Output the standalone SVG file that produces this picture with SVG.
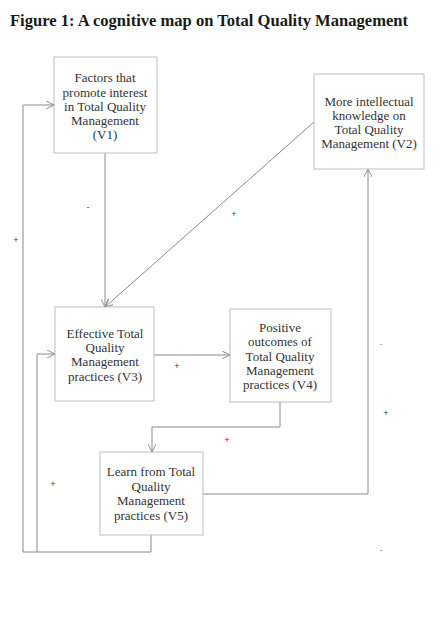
<svg xmlns="http://www.w3.org/2000/svg" width="448" height="640" viewBox="0 0 448 640">
<style>
.bg{fill:#ffffff}
.box{fill:#ffffff;stroke:#bdbdbd;stroke-width:1}
.t{font-family:"Liberation Serif","DejaVu Serif",serif;font-size:13px;fill:#333;text-anchor:middle}
.title{font-family:"Liberation Serif","DejaVu Serif",serif;font-size:16px;font-weight:bold;fill:#1a1a1a}
.c{fill:none;stroke:#8a8a8a;stroke-width:1}
.s{font-family:"Liberation Sans","DejaVu Sans",sans-serif;font-size:9px;fill:#444;text-anchor:middle}
</style>
<defs>
<marker id="arr" viewBox="0 0 10 10" refX="10" refY="5" markerWidth="8" markerHeight="8" markerUnits="userSpaceOnUse" orient="auto">
<path d="M0,0 L10,5 L0,10" fill="none" stroke="#8a8a8a" stroke-width="1.2"/>
</marker>
</defs>
<rect class="bg" x="0" y="0" width="448" height="640"/>
<text class="title" x="10" y="26" textLength="398" lengthAdjust="spacingAndGlyphs">Figure 1: A cognitive map on Total Quality Management</text>

<g id="connectors">
<path class="c" d="M105,153 V307" marker-end="url(#arr)"/>
<path class="c" d="M314,122 L105,307" marker-end="url(#arr)"/>
<path class="c" d="M154,355 H230" marker-end="url(#arr)"/>
<path class="c" d="M280,402 V427 H152 V452" marker-end="url(#arr)"/>
<path class="c" d="M203,494 H368 V169" marker-end="url(#arr)"/>
<path class="c" d="M151,535 V552 H23 V105 H54" marker-end="url(#arr)"/>
<path class="c" d="M37,552 V354 H55" marker-end="url(#arr)"/>
<text class="s" x="88" y="210">-</text>
<text class="s" x="16" y="243">+</text>
<text class="s" x="234" y="217">+</text>
<text class="s" x="177" y="369">+</text>
<text class="s" x="227" y="443">+</text>
<text class="s" x="53" y="487">+</text>
<text class="s" x="386" y="416">+</text>
<text class="s" x="381" y="345">.</text>
<text class="s" x="381" y="551">.</text>
</g>

<g id="V1">
<rect class="box" x="54" y="57" width="103" height="96"/>
<text class="t" x="105" y="82">Factors that</text>
<text class="t" x="105" y="97">promote interest</text>
<text class="t" x="105" y="111">in Total Quality</text>
<text class="t" x="105" y="125">Management</text>
<text class="t" x="105" y="139">(V1)</text>
</g>

<g id="V2">
<rect class="box" x="314" y="74" width="110" height="95"/>
<text class="t" x="369" y="106">More intellectual</text>
<text class="t" x="369" y="120">knowledge on</text>
<text class="t" x="369" y="134">Total Quality</text>
<text class="t" x="369" y="148">Management (V2)</text>
</g>

<g id="V3">
<rect class="box" x="55" y="307" width="99" height="94"/>
<text class="t" x="105" y="338">Effective Total</text>
<text class="t" x="105" y="352">Quality</text>
<text class="t" x="105" y="366">Management</text>
<text class="t" x="105" y="381">practices (V3)</text>
</g>

<g id="V4">
<rect class="box" x="230" y="309" width="101" height="93"/>
<text class="t" x="280" y="332">Positive</text>
<text class="t" x="280" y="346">outcomes of</text>
<text class="t" x="280" y="361">Total Quality</text>
<text class="t" x="280" y="375">Management</text>
<text class="t" x="280" y="389">practices (V4)</text>
</g>

<g id="V5">
<rect class="box" x="100" y="452" width="103" height="83"/>
<text class="t" x="151" y="476">Learn from Total</text>
<text class="t" x="151" y="491">Quality</text>
<text class="t" x="151" y="505">Management</text>
<text class="t" x="151" y="520">practices (V5)</text>
</g>
</svg>
